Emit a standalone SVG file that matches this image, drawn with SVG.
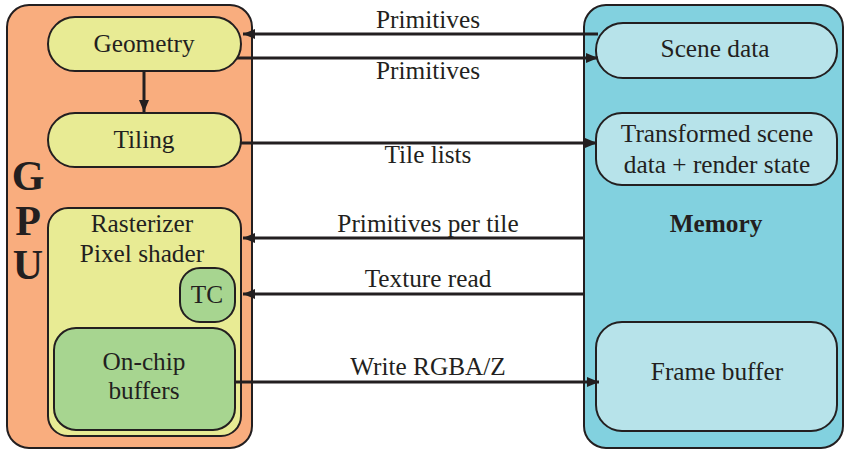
<svg xmlns="http://www.w3.org/2000/svg" width="849" height="455" viewBox="0 0 849 455">
<style>
.t{font-family:"Liberation Serif","Times New Roman",serif;font-size:25.3px;fill:#231F20;text-anchor:middle}
.b{font-weight:bold}
.box{stroke:#231F20;stroke-width:2}
.gpu{fill:#F9AD7E}
.mem{fill:#82D1DF}
.yel{fill:#E8EB94}
.grn{fill:#A7D590}
.lb{fill:#B7E3EA}
.c{stroke:#231F20;stroke-width:3;fill:none}
</style>
<defs>
<marker id="ah" viewBox="0 0 12 10" refX="12" refY="5" markerWidth="12" markerHeight="10" markerUnits="userSpaceOnUse" orient="auto">
<path d="M0,0 L12,5 L0,10 z" fill="#231F20"/>
</marker>
</defs>
<rect width="849" height="455" fill="#fff"/>
<g id="gpu">
<rect class="box gpu" x="7" y="5" width="245" height="443" rx="22"/>
<text class="t b" x="28" y="190" style="font-size:42px">G</text>
<text class="t b" x="28" y="235" style="font-size:42px">P</text>
<text class="t b" x="28" y="279" style="font-size:42px">U</text>
</g>
<g id="memory">
<rect class="box mem" x="584" y="5" width="259" height="443" rx="22"/>
<text class="t b" x="716" y="232">Memory</text>
</g>
<g id="geometry">
<rect class="box yel" x="48" y="17" width="193" height="54" rx="27"/>
<text class="t" x="144" y="52">Geometry</text>
</g>
<g id="tiling">
<rect class="box yel" x="48" y="113" width="193" height="54" rx="27"/>
<text class="t" x="144" y="148">Tiling</text>
</g>
<g id="rasterizer">
<rect class="box yel" x="48" y="208" width="193" height="228" rx="20"/>
<text class="t" x="142" y="232">Rasterizer</text>
<text class="t" x="142" y="262">Pixel shader</text>
</g>
<g id="tc">
<rect class="box grn" x="180" y="268" width="55" height="54" rx="20"/>
<text class="t" x="207" y="303">TC</text>
</g>
<g id="onchip">
<rect class="box grn" x="54" y="328" width="181" height="102" rx="22"/>
<text class="t" x="144" y="370">On-chip</text>
<text class="t" x="144" y="399">buffers</text>
</g>
<g id="scene">
<rect class="box lb" x="596" y="23" width="241" height="55" rx="27"/>
<text class="t" x="715" y="57">Scene data</text>
</g>
<g id="transformed">
<rect class="box lb" x="596" y="113" width="241" height="72" rx="26"/>
<text class="t" x="717" y="142">Transformed scene</text>
<text class="t" x="717" y="173">data + render state</text>
</g>
<g id="framebuffer">
<rect class="box lb" x="596" y="322" width="241" height="109" rx="26"/>
<text class="t" x="717" y="380">Frame buffer</text>
</g>
<g id="connectors">
<line class="c" x1="144" y1="71" x2="144" y2="112" marker-end="url(#ah)"/>
<line class="c" x1="598" y1="34" x2="243" y2="34" marker-end="url(#ah)"/>
<line class="c" x1="237" y1="58" x2="598" y2="58" marker-end="url(#ah)"/>
<line class="c" x1="241" y1="143" x2="597" y2="143" marker-end="url(#ah)"/>
<line class="c" x1="584" y1="238" x2="243" y2="238" marker-end="url(#ah)"/>
<line class="c" x1="584" y1="294" x2="243" y2="294" marker-end="url(#ah)"/>
<line class="c" x1="235" y1="382" x2="599" y2="382" marker-end="url(#ah)"/>
<text class="t" x="428" y="28">Primitives</text>
<text class="t" x="428" y="79">Primitives</text>
<text class="t" x="428" y="163">Tile lists</text>
<text class="t" x="428" y="232">Primitives per tile</text>
<text class="t" x="428" y="287">Texture read</text>
<text class="t" x="428" y="375">Write RGBA/Z</text>
</g>
</svg>
